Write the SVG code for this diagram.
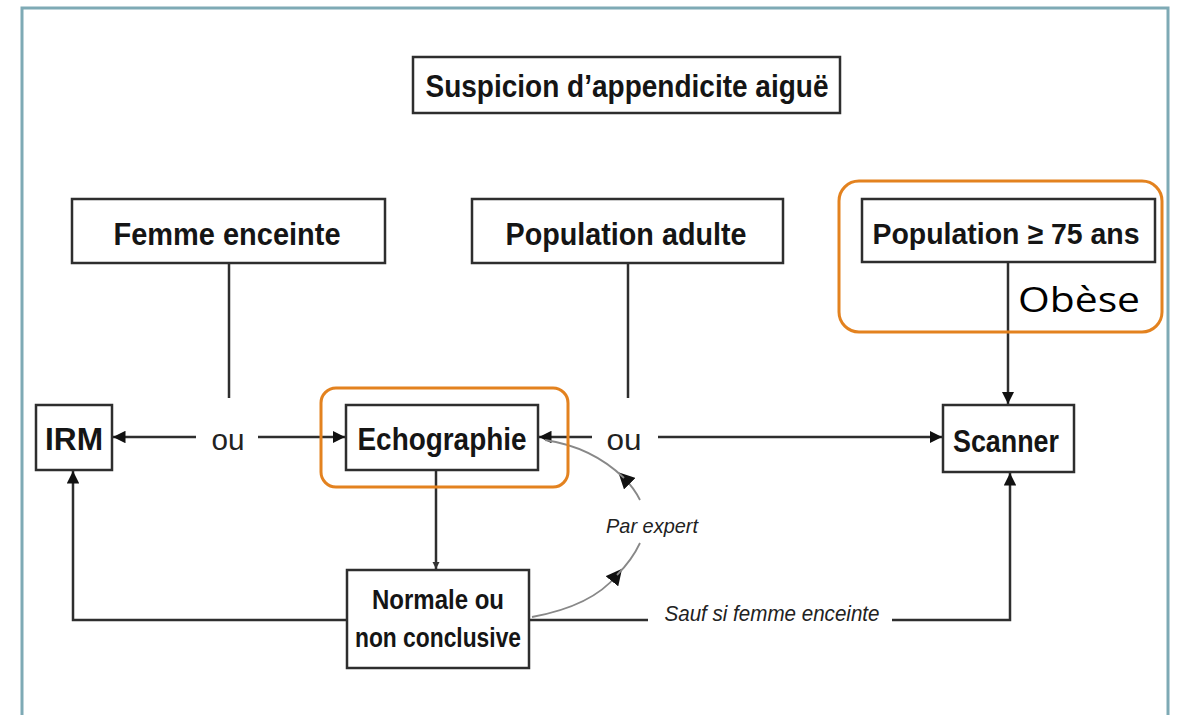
<svg xmlns="http://www.w3.org/2000/svg" width="1180" height="715" viewBox="0 0 1180 715">
  <style>
    .box { fill: #ffffff; stroke: #2e2e2e; stroke-width: 2.5; }
    .hl { fill: none; stroke: #e3821f; stroke-width: 3; }
    .lbl { font-family: "Liberation Sans Narrow", "Liberation Sans", Lato, sans-serif; font-weight: bold; fill: #151515; text-anchor: middle; }
    .ou { font-family: "Liberation Sans Narrow", "Liberation Sans", Lato, sans-serif; font-size: 30px; fill: #222; text-anchor: middle; }
    .it { font-family: "Liberation Sans Narrow", "Liberation Sans", Lato, sans-serif; font-style: italic; fill: #222; text-anchor: middle; }
    .line { fill: none; stroke: #2e2e2e; stroke-width: 2.5; }
    .curve { fill: none; stroke: #888; stroke-width: 1.8; }
  </style>
  <defs>
    <marker id="arrow" viewBox="0 0 10 10" refX="10" refY="5" markerWidth="5" markerHeight="5" markerUnits="strokeWidth" orient="auto">
      <path d="M0,0 L10,5 L0,10 z" fill="#111"/>
    </marker>
    <marker id="arrowSmall" viewBox="0 0 10 10" refX="10" refY="5" markerWidth="3" markerHeight="3" markerUnits="strokeWidth" orient="auto">
      <path d="M0,0 L10,5 L0,10 z" fill="#333"/>
    </marker>
    <marker id="arrowCurve" viewBox="0 0 10 10" refX="5" refY="5" markerWidth="9" markerHeight="9" markerUnits="strokeWidth" orient="auto">
      <path d="M0,0 L10,5 L0,10 z" fill="#111"/>
    </marker>
  </defs>

  <!-- outer frame -->
  <rect x="0" y="0" width="1180" height="715" fill="#ffffff"/>
  <rect x="22" y="8" width="1146" height="720" fill="none" stroke="#7eaab5" stroke-width="3"/>

  <!-- connectors -->
  <g id="connectors">
    <!-- Femme enceinte down to "ou" -->
    <line class="line" x1="229" y1="263" x2="229" y2="398"/>
    <!-- Population adulte down to "ou" -->
    <line class="line" x1="628" y1="263" x2="628" y2="398"/>
    <!-- ou -> IRM / Echographie -->
    <line class="line" x1="196" y1="437" x2="113" y2="437" marker-end="url(#arrow)"/>
    <line class="line" x1="258" y1="437" x2="345" y2="437" marker-end="url(#arrow)"/>
    <!-- ou -> Echographie / Scanner -->
    <line class="line" x1="592" y1="437" x2="539" y2="437" marker-end="url(#arrow)"/>
    <line class="line" x1="658" y1="437" x2="942" y2="437" marker-end="url(#arrow)"/>
    <!-- Population >= 75 ans -> Scanner -->
    <line class="line" x1="1008" y1="262" x2="1008" y2="404" marker-end="url(#arrow)"/>
    <!-- Echographie -> Normale ou non conclusive -->
    <line class="line" x1="436" y1="470" x2="436" y2="569" stroke-width="2" marker-end="url(#arrowSmall)"/>
    <!-- Normale -> IRM -->
    <polyline class="line" points="347,620 73,620 73,471" marker-end="url(#arrow)"/>
    <!-- Normale -> Scanner (sauf si femme enceinte) -->
    <line class="line" x1="529" y1="620" x2="648" y2="620"/>
    <polyline class="line" points="892,620 1010,620 1010,473" marker-end="url(#arrow)"/>
    <!-- Par expert loop -->
    <path class="curve" d="M532,617 Q592,606 617,575" marker-end="url(#arrowCurve)"/>
    <path class="curve" d="M617,575 Q632,560 640,543"/>
    <path class="curve" d="M640,500 Q634,488 624,478" marker-end="url(#arrowCurve)"/>
    <path class="curve" d="M624,478 Q592,447 545,440"/>
  </g>

  <g id="title">
    <rect class="box" x="413" y="57" width="427" height="56"/>
    <text class="lbl" x="627" y="97" font-size="32" textLength="403" lengthAdjust="spacingAndGlyphs">Suspicion d’appendicite aiguë</text>
  </g>

  <g id="femme-enceinte">
    <rect class="box" x="72" y="199" width="313" height="64"/>
    <text class="lbl" x="227" y="245" font-size="32" textLength="227" lengthAdjust="spacingAndGlyphs">Femme enceinte</text>
  </g>

  <g id="population-adulte">
    <rect class="box" x="472" y="199" width="311" height="64"/>
    <text class="lbl" x="626" y="245" font-size="32" textLength="241" lengthAdjust="spacingAndGlyphs">Population adulte</text>
  </g>

  <g id="population-75">
    <rect class="box" x="862" y="199" width="293" height="63"/>
    <text class="lbl" x="1006" y="244" font-size="30" textLength="267" lengthAdjust="spacingAndGlyphs">Population ≥ 75 ans</text>
    <rect class="hl" x="839" y="181" width="323" height="151" rx="20"/>
    <text x="1079" y="312" font-family="Open Sans, 'Liberation Sans', sans-serif" font-size="35" fill="#000" text-anchor="middle" textLength="122" lengthAdjust="spacingAndGlyphs">Obèse</text>
  </g>

  <g id="ou-gauche">
    <text class="ou" x="228" y="450" textLength="33" lengthAdjust="spacingAndGlyphs">ou</text>
  </g>
  <g id="ou-droite">
    <text class="ou" x="624" y="450" textLength="35" lengthAdjust="spacingAndGlyphs">ou</text>
  </g>

  <g id="irm">
    <rect class="box" x="36" y="405" width="76" height="65"/>
    <text class="lbl" x="74" y="450" font-size="32" textLength="58" lengthAdjust="spacingAndGlyphs">IRM</text>
  </g>

  <g id="echographie">
    <rect class="box" x="346" y="405" width="192" height="65"/>
    <text class="lbl" x="442" y="450" font-size="32" textLength="169" lengthAdjust="spacingAndGlyphs">Echographie</text>
    <rect class="hl" x="321" y="388" width="247" height="99" rx="15"/>
  </g>

  <g id="scanner">
    <rect class="box" x="943" y="405" width="131" height="67"/>
    <text class="lbl" x="1006" y="452" font-size="32" textLength="106" lengthAdjust="spacingAndGlyphs">Scanner</text>
  </g>

  <g id="normale">
    <rect class="box" x="347" y="570" width="182" height="98"/>
    <text class="lbl" x="438" y="609" font-size="27" textLength="132" lengthAdjust="spacingAndGlyphs">Normale ou</text>
    <text class="lbl" x="438" y="647" font-size="27" textLength="166" lengthAdjust="spacingAndGlyphs">non conclusive</text>
  </g>

  <g id="labels">
    <text class="it" x="652" y="533" font-size="21" textLength="92" lengthAdjust="spacingAndGlyphs">Par expert</text>
    <text class="it" x="772" y="621" font-size="22" textLength="215" lengthAdjust="spacingAndGlyphs">Sauf si femme enceinte</text>
  </g>
</svg>
